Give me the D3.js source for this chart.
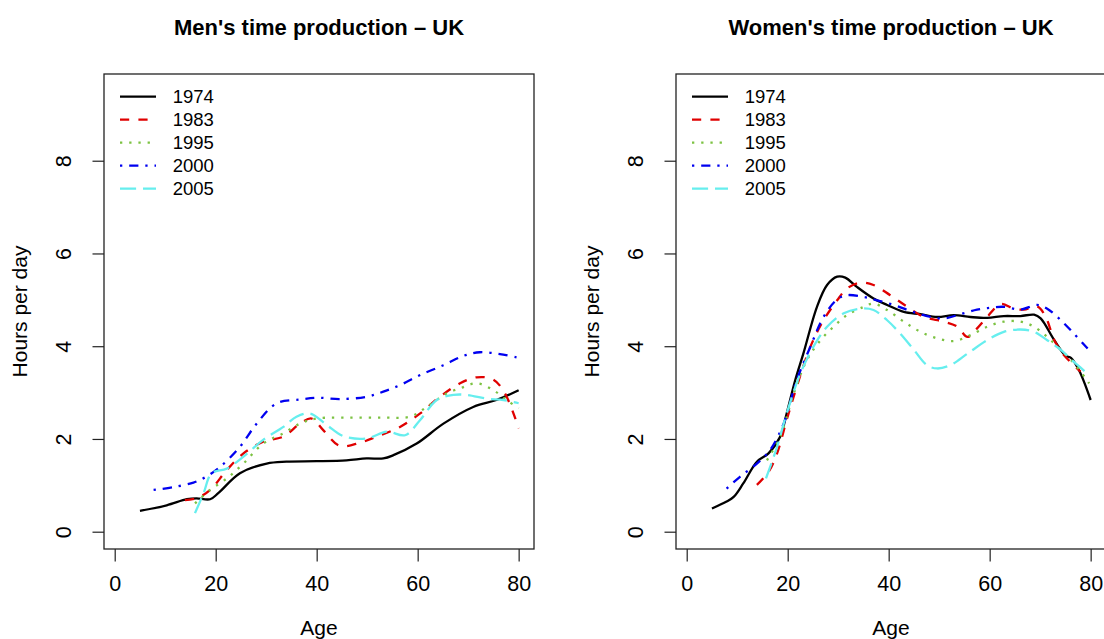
<!DOCTYPE html>
<html lang="en">
<head>
<meta charset="UTF-8">
<title>Time production - UK</title>
<script src="https://d3js.org/d3.v7.min.js"></script>
<style>
  body { margin: 0; background: #fff; }
  svg { display: block; font-family: "Liberation Sans", Arial, Helvetica, sans-serif; }
</style>
</head>
<body>
<svg id="chart" width="1104" height="639"></svg>
<script>
// legend labels / series order
const years = ["1974", "1983", "1995", "2000", "2005"];
const xTicks = [0, 20, 40, 60, 80];
const yTicks = [0, 2, 4, 6, 8];

// men, [age, hours per day]
const men1974 = [[5,0.45],[10.3,0.57],[14.3,0.70],[16.2,0.72],[18.9,0.70],[20.5,0.83],[24.8,1.26],[30.1,1.47],[34,1.51],[40,1.52],[45.9,1.54],[49.9,1.58],[53.2,1.58],[55.2,1.65],[59.8,1.90],[65.1,2.33],[71,2.69],[75.6,2.84],[80,3.05]];
const men1983 = [[13.9,0.68],[16.2,0.72],[18.9,0.90],[22.2,1.33],[25.5,1.69],[29.4,1.94],[33.4,2.05],[36.7,2.33],[39,2.44],[41.3,2.19],[44.6,1.85],[48.6,1.92],[51.9,2.05],[56.5,2.26],[60.5,2.55],[64.4,2.91],[68.4,3.20],[71.7,3.33],[75,3.28],[77.3,2.98],[80,2.23]];
const men1995 = [[15.9,0.61],[18.9,0.90],[22.2,1.15],[25.5,1.47],[29.4,1.90],[33.4,2.12],[36.7,2.33],[40,2.44],[46.6,2.46],[53.2,2.46],[58.5,2.48],[61.8,2.69],[65.7,2.98],[68.4,3.09],[71.7,3.20],[75,3.05],[77.6,2.84],[80,2.66]];
const men2000 = [[7.7,0.90],[11.6,0.96],[15.6,1.06],[18.2,1.19],[20.9,1.40],[24.8,1.83],[28.1,2.33],[32.1,2.77],[36.7,2.85],[40,2.89],[44.6,2.86],[49.9,2.91],[53.2,3.02],[56.5,3.16],[60.5,3.38],[65.1,3.59],[69,3.79],[72.3,3.87],[76.3,3.83],[80,3.75]];
const men2005 = [[15.9,0.40],[17.6,0.83],[19.2,1.26],[22.2,1.36],[25.5,1.62],[29.4,1.98],[33.4,2.26],[36,2.48],[38.7,2.55],[42,2.30],[45.3,2.06],[49.9,2.01],[53.9,2.16],[57.5,2.08],[60.5,2.41],[63.8,2.84],[67.1,2.95],[69.7,2.95],[73.7,2.87],[77,2.84],[80,2.77]];

// women, [age, hours per day]
const women1974 = [[5,0.50],[7.9,0.65],[9.3,0.75],[11.2,1.04],[13.9,1.51],[16.2,1.69],[18.5,2.05],[19.8,2.55],[21.5,3.27],[23.1,3.84],[25.8,4.85],[27.8,5.32],[29.8,5.50],[31.4,5.48],[33.7,5.28],[37,5.03],[39.7,4.89],[43,4.74],[46.3,4.69],[49.6,4.63],[52.9,4.67],[56.2,4.63],[59.5,4.61],[62.8,4.65],[66.1,4.65],[68.8,4.68],[70.1,4.60],[72.8,4.13],[75.1,3.79],[76.1,3.75],[77.7,3.48],[80,2.84]];
const women1983 = [[13.9,1.01],[16.2,1.29],[17.9,1.69],[19.8,2.41],[21.8,3.13],[24.5,3.99],[27.1,4.56],[29.8,4.99],[31.7,5.24],[34.4,5.37],[37,5.32],[40.3,5.10],[43.7,4.85],[47,4.63],[50.9,4.53],[53.6,4.42],[55.6,4.20],[57.2,4.35],[59.5,4.63],[62.2,4.91],[64.8,4.81],[66.8,4.79],[69.4,4.86],[71.1,4.63],[72.8,4.13],[74.7,3.81],[78,3.45]];
const women1995 = [[15.9,1.54],[18.5,2.05],[21.2,2.98],[23.8,3.70],[26.5,4.13],[29.1,4.42],[31.7,4.67],[35.1,4.85],[37,4.92],[39.7,4.78],[43,4.53],[46.3,4.31],[49.6,4.17],[52.9,4.11],[56.2,4.24],[59.5,4.42],[62.8,4.53],[66.1,4.53],[68.8,4.42],[71.4,4.20],[74.1,3.92],[76.7,3.63],[79.7,3.20]];
const women2000 = [[7.9,0.93],[10.6,1.19],[13.9,1.47],[16.5,1.76],[19.2,2.33],[21.8,3.27],[24.5,3.99],[27.1,4.63],[29.8,5.01],[31.7,5.10],[35.1,5.06],[37.7,4.99],[41,4.89],[44.3,4.76],[47.6,4.65],[50.9,4.60],[54.2,4.69],[57.5,4.79],[60.2,4.83],[62.8,4.85],[66.1,4.79],[69.4,4.89],[71.4,4.81],[74.1,4.56],[76.7,4.27],[79.4,3.95]];
const women2005 = [[15.7,1.15],[17.9,1.83],[19.8,2.55],[22.5,3.41],[25.1,3.99],[27.8,4.42],[31.1,4.71],[34.4,4.81],[37,4.78],[39.7,4.56],[42.3,4.27],[45,3.92],[47.6,3.59],[49.6,3.52],[52.2,3.59],[55.6,3.84],[59.5,4.13],[62.8,4.31],[66.1,4.36],[68.8,4.31],[71.4,4.13],[74.1,3.92],[76.7,3.66],[79.7,3.38]];

// line styles (R lty 1..5)
const colors = ["#000000", "#e00000", "#7cc242", "#0000f0", "#66eeee"];
const dashes = [null, "9.2,9.2", "2.3,6.9", "2.3,6.9,9.2,6.9", "16.1,6.9"];
const lw = 2.3;

const svg = d3.select("#chart");
const panelW = 430, plotTop = 74, plotBottom = 549;

const y = d3.scaleLinear().domain([-0.373, 9.87]).range([plotBottom, plotTop]);

function drawPanel(left, title, series) {
  const x = d3.scaleLinear().domain([-2.12, 83.04]).range([left, left + panelW]);
  const g = svg.append("g");

  g.append("text")
    .attr("x", left + panelW / 2).attr("y", 35)
    .attr("text-anchor", "middle")
    .attr("font-weight", "bold").attr("font-size", 22)
    .text(title);

  // x axis
  const xa = g.append("g")
    .attr("transform", "translate(0," + plotBottom + ")")
    .call(d3.axisBottom(x).tickValues(xTicks).tickSize(12.5).tickPadding(14));
  xa.select(".domain").remove();
  xa.attr("font-size", 21.5).attr("font-family", null);
  xa.selectAll("line").attr("stroke-width", 1.2).attr("stroke", "#222");

  // y axis, labels parallel to the axis like R
  const ya = g.append("g")
    .attr("transform", "translate(" + left + ",0)")
    .call(d3.axisLeft(y).tickValues(yTicks).tickSize(11.5));
  ya.select(".domain").remove();
  ya.attr("font-size", 21.5).attr("font-family", null);
  ya.selectAll("line").attr("stroke-width", 1.2).attr("stroke", "#222");
  ya.selectAll("text")
    .attr("x", null).attr("dy", null)
    .attr("text-anchor", "middle")
    .attr("transform", "translate(-33,0) rotate(-90)");

  g.append("text")
    .attr("x", left + panelW / 2).attr("y", 635)
    .attr("text-anchor", "middle").attr("font-size", 21)
    .text("Age");

  g.append("text")
    .attr("transform", "translate(" + (left - 77) + "," + (plotTop + plotBottom) / 2 + ") rotate(-90)")
    .attr("text-anchor", "middle").attr("font-size", 21)
    .text("Hours per day");

  const line = d3.line()
    .x(d => x(d[0]))
    .y(d => y(d[1]))
    .curve(d3.curveCatmullRom.alpha(0.5));

  series.forEach((s, i) => {
    g.append("path")
      .attr("d", line(s))
      .attr("fill", "none")
      .attr("stroke", colors[i])
      .attr("stroke-width", lw)
      .attr("stroke-dasharray", dashes[i]);
  });

  g.append("rect")
    .attr("x", left).attr("y", plotTop)
    .attr("width", panelW).attr("height", plotBottom - plotTop)
    .attr("fill", "none").attr("stroke", "#222").attr("stroke-width", 1.3);

  // legend
  const leg = g.append("g");
  years.forEach((yr, i) => {
    const ly = 96.7 + 23 * i;
    leg.append("line")
      .attr("x1", left + 16).attr("x2", left + 52)
      .attr("y1", ly).attr("y2", ly)
      .attr("stroke", colors[i]).attr("stroke-width", lw)
      .attr("stroke-dasharray", dashes[i]);
    leg.append("text")
      .attr("x", left + 68.7).attr("y", ly + 6.6)
      .attr("font-size", 18.5)
      .text(yr);
  });
}

drawPanel(104, "Men's time production \u2013 UK", [men1974, men1983, men1995, men2000, men2005]);
drawPanel(676, "Women's time production \u2013 UK", [women1974, women1983, women1995, women2000, women2005]);
</script>
</body>
</html>
